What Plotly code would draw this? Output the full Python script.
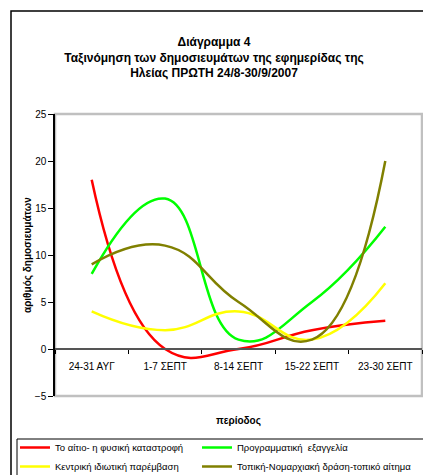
import plotly.graph_objects as go

categories = ["24-31 ΑΥΓ", "1-7 ΣΕΠΤ", "8-14 ΣΕΠΤ", "15-22 ΣΕΠΤ", "23-30 ΣΕΠΤ"]

series_names = [
    "Το αίτιο- η φυσική καταστροφή",
    "Προγραμματική  εξαγγελία",
    "Κεντρική ιδιωτική παρέμβαση",
    "Τοπική-Νομαρχιακή δράση-τοπικό αίτημα",
]
cause_values = [18, 0, 0, 2, 3]
program_values = [8, 16, 1, 5, 13]
central_values = [4, 2, 4, 1, 7]
local_values = [9, 11, 5, 1, 20]

series_values = [cause_values, program_values, central_values, local_values]
colors = ["#FF0000", "#00FF00", "#FFFF00", "#808000"]
legend_columns = ["legend", "legend2", "legend", "legend2"]

y_title = "αριθμός δημοσιευμάτων"
x_title = "περίοδος"

W, H = 423, 475
L, R, T, B = 55, 1, 114, 79
pw = W - L - R
ph = H - T - B


def px_x(x):
    return (x - L) / pw


def px_y(y):
    return (ph + T - y) / ph


fig = go.Figure()
for name, vals, col, lg in zip(series_names, series_values, colors, legend_columns):
    fig.add_trace(go.Scatter(
        x=categories, y=vals, name=name, mode="lines", legend=lg,
        line=dict(color=col, width=2.5, shape="spline", smoothing=1.3),
    ))

font_family = "Liberation Sans, Arial, sans-serif"

legend_common = dict(
    orientation="v",
    xref="paper", yref="paper",
    xanchor="left", yanchor="top",
    borderwidth=0, bgcolor="rgba(0,0,0,0)",
    itemclick=False, tracegroupgap=0,
    font=dict(size=9.5, family=font_family),
)

fig.update_layout(
    width=W, height=H,
    margin=dict(l=L, r=R, t=T, b=B, autoexpand=False),
    paper_bgcolor="white", plot_bgcolor="white",
    font=dict(family=font_family, size=10, color="black"),
    title=dict(
        text="<b>Διάγραμμα 4<br>Ταξινόμηση των δημοσιευμάτων της εφημερίδας της<br>Ηλείας ΠΡΩΤΗ 24/8-30/9/2007</b>",
        x=214 / W, xanchor="center", xref="container",
        y=1 - 46 / H, yanchor="top", yref="container",
        font=dict(size=12, family=font_family, color="black"),
    ),
    xaxis=dict(
        type="category", range=[-0.5, 4.5],
        anchor="free", position=5 / 30,
        showline=True, linecolor="#555555", linewidth=1.5,
        ticks="outside", ticklen=4, tickcolor="black", tickwidth=1,
        tickson="boundaries", ticklabelstandoff=8,
        showgrid=False, zeroline=False,
        tickfont=dict(size=10),
        title=dict(text="<b>" + x_title + "</b>", font=dict(size=10), standoff=45),
    ),
    yaxis=dict(
        range=[-5, 25], dtick=5, tick0=0,
        showline=True, linecolor="black", linewidth=1.5,
        ticks="outside", ticklen=5, tickcolor="black",
        showgrid=False, zeroline=False,
        tickfont=dict(size=10),
    ),
    annotations=[
        dict(text="<b>" + y_title + "</b>", textangle=-90,
             xref="paper", yref="paper",
             x=px_x(28), y=0.5, xanchor="center", yanchor="middle",
             showarrow=False, font=dict(size=10, family=font_family, color="black")),
    ],
    showlegend=True,
    legend=dict(legend_common, x=px_x(15), y=px_y(433)),
    legend2=dict(legend_common, x=px_x(197), y=px_y(433)),
    shapes=[
        dict(type="rect", xref="paper", yref="paper", x0=0, x1=1, y0=0, y1=1,
             line=dict(color="#C0C0C0", width=2.5), layer="below"),
        dict(type="rect", xref="paper", yref="paper",
             x0=px_x(11), x1=1.5, y0=-1.0, y1=px_y(11),
             line=dict(color="black", width=1.5), layer="below"),
        dict(type="rect", xref="paper", yref="paper",
             x0=px_x(17), x1=1.5, y0=-1.0, y1=px_y(439),
             line=dict(color="black", width=1), layer="below"),
    ],
)

fig.write_html(
    "out.html",
    config={"displayModeBar": False},
    post_script="document.body.style.margin='0';document.body.style.overflow='hidden';",
)
